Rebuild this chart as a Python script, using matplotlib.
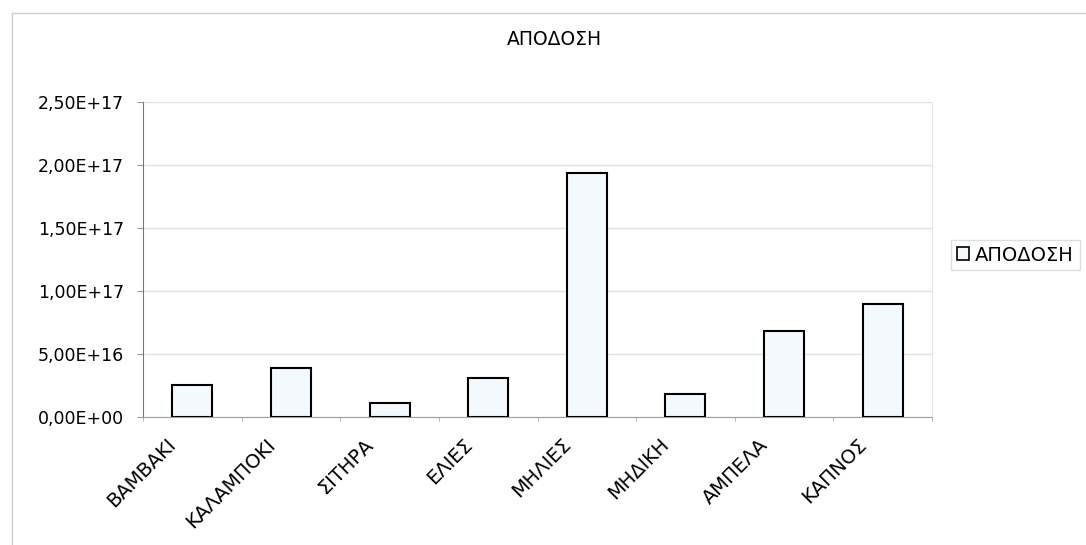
import matplotlib.pyplot as plt
from matplotlib.patches import Rectangle
from matplotlib.ticker import FuncFormatter, FixedLocator
from matplotlib.transforms import ScaledTranslation
import numpy as np

# Απόδοση ανά καλλιέργεια
categories = ["ΒΑΜΒΑΚΙ", "ΚΑΛΑΜΠΟΚΙ", "ΣΙΤΗΡΑ", "ΕΛΙΕΣ", "ΜΗΛΙΕΣ", "ΜΗΔΙΚΗ", "ΑΜΠΕΛΑ", "ΚΑΠΝΟΣ"]
apodosi = [2.52e16, 3.84e16, 1.11e16, 3.05e16, 1.937e17, 1.8e16, 6.83e16, 8.92e16]
y_ticks = [0, 5e16, 1e17, 1.5e17, 2e17, 2.5e17]

plt.rcParams["font.family"] = ["DejaVu Sans"]

W, H = 1086, 545
fig = plt.figure(figsize=(W / 100, H / 100), dpi=100)
# πλαίσιο γραφήματος
fig.patches.append(Rectangle((12 / W, -0.01), 1.1, 1 - 13 / H + 0.01, transform=fig.transFigure,
                             fill=False, edgecolor="#c8ccd2", linewidth=1.0))

ax = fig.add_axes([143 / W, 1 - 416.7 / H, 789 / W, 315 / H])
x = np.arange(len(categories))
ax.bar(x, apodosi, width=0.405, color="#f3f9fd", edgecolor="black", linewidth=1.5, label="ΑΠΟΔΟΣΗ", zorder=3)

ax.set_xlim(-0.5, len(categories) - 0.5)
ax.set_ylim(0, 2.5e17)
ax.set_yticks(y_ticks)
ax.yaxis.set_major_formatter(FuncFormatter(lambda v, p: f"{v:.2E}".replace(".", ",")))
ax.grid(axis="y", color="#e2e2e2", linewidth=1.0, zorder=0)

ax.set_xticks(x)
ax.xaxis.set_minor_locator(FixedLocator(np.arange(-0.5, len(categories), 1.0)))
ax.tick_params(axis="x", which="major", length=0, pad=0)
ax.tick_params(axis="x", which="minor", length=3, color="#aaaaaa", direction="out")
ax.tick_params(axis="y", length=4.3, color="#999999", labelsize=12.5, pad=9.5)

ax.set_xticklabels(categories, rotation=45, ha="right", va="center", rotation_mode="anchor", fontsize=14)
# μετατόπιση των ετικετών κάτω αριστερά από το κέντρο της στήλης
shift = ScaledTranslation(-0.19, -0.25, fig.dpi_scale_trans)
for lbl in ax.get_xticklabels():
    lbl.set_transform(lbl.get_transform() + shift)

ax.spines["top"].set_visible(False)
ax.spines["right"].set_color("#e6e6e6")
ax.spines["left"].set_color("#777777")
ax.spines["bottom"].set_color("#a0a0a0")

fig.text(554 / W, 1 - 39 / H, "ΑΠΟΔΟΣΗ", ha="center", va="center", fontsize=13.5)

leg = fig.legend(loc="center left", bbox_to_anchor=(951 / W, 1 - 255 / H), frameon=True,
                 fontsize=14, handlelength=0.65, handleheight=0.65, handletextpad=0.3,
                 borderpad=0.3, fancybox=False, borderaxespad=0)
leg.get_frame().set_edgecolor("#d6d6d6")
leg.get_frame().set_linewidth(1.0)
for h in leg.legend_handles:
    h.set_linewidth(1.2)

fig.savefig("out.png", dpi=100)
